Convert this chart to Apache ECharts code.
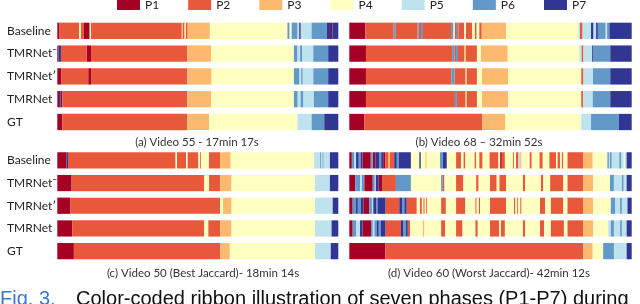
<!DOCTYPE html>
<html><head><meta charset="utf-8">
<script src="https://cdn.jsdelivr.net/npm/echarts@6/dist/echarts.min.js"></script>
<style>html,body{margin:0;padding:0;background:#fff;overflow:hidden}#c{width:640px;height:304px}</style>
</head><body><div id="c"></div>
<script>
// ---- data ----
const phases = ['P1','P2','P3','P4','P5','P6','P7'];
const phaseColors = ['#a50026','#e8583a','#fdba6e','#ffffc0','#bee3ef','#6399c8','#313695'];
const rowLabels = ['Baseline','TMRNet\u00AF','TMRNet\u2032','TMRNet','GT'];
const panelTitles = ['(a) Video 55 - 17min 17s','(b) Video 68 \u2013 32min 52s','(c) Video 50 (Best Jaccard)- 18min 14s','(d) Video 60 (Worst Jaccard)- 42min 12s'];
// each segment: [end position in % of the video, phase number]
const a_baseline = [[0.8,1],[7.8,2],[8.3,4],[9.5,2],[11.3,1],[11.6,2],[12.0,4],[44.3,2],[44.7,3],[45.3,2],[45.7,4],[46.4,2],[54.3,3],[81.9,4],[82.6,6],[83.4,4],[85.4,6],[86.1,5],[86.6,7],[90.5,5],[95.9,6],[97.4,7],[97.9,1],[100,7]];
const a_tmrMinus = [[0.4,1],[1.3,7],[10.4,2],[12.0,1],[46.3,2],[54.7,3],[84.2,4],[85.4,6],[86.4,5],[87.1,6],[91.1,5],[96.4,6],[100,7]];
const a_tmrPrime = [[1.5,1],[11.0,2],[12.0,1],[46.3,2],[54.9,3],[84.2,4],[86.1,6],[86.8,5],[87.3,6],[91.1,5],[96.4,6],[100,7]];
const a_tmr = [[0.6,1],[1.2,7],[1.8,1],[46.3,2],[54.7,3],[84.2,4],[85.5,6],[86.6,5],[87.5,6],[91.3,5],[96.4,6],[100,7]];
const a_gt = [[1.8,1],[46.3,2],[54.0,3],[85.5,4],[90.5,5],[95.0,6],[100,7]];

const b_baseline = [[5.7,1],[15.7,2],[16.3,6],[24.2,2],[24.6,6],[25.4,2],[26.1,6],[36.0,2],[36.8,6],[37.3,4],[38.1,2],[38.6,6],[40.7,2],[41.3,4],[43.5,2],[44.4,4],[45.1,2],[46.0,4],[46.9,2],[55.5,3],[81.1,4],[81.7,5],[82.6,2],[85.6,5],[86.4,7],[87.4,5],[88.0,7],[90.7,6],[91.3,5],[92.1,6],[100,7]];
const b_tmrMinus = [[5.9,1],[36.4,2],[37.2,6],[37.8,2],[38.5,6],[40.7,2],[41.3,3],[45.2,2],[46.6,4],[56.1,3],[81.5,4],[82.2,5],[82.9,2],[86.0,5],[86.4,7],[92.4,6],[100,7]];
const b_tmrPrime = [[5.9,1],[36.2,2],[37.3,6],[41.1,2],[41.6,3],[45.2,2],[47.0,4],[56.2,3],[82.1,4],[82.9,2],[86.3,5],[92.4,6],[100,7]];
const b_tmr = [[5.9,1],[37.4,2],[38.1,6],[41.1,2],[41.6,3],[45.2,2],[47.0,4],[56.2,3],[82.1,4],[82.8,2],[86.2,5],[92.4,6],[100,7]];
const b_gt = [[5.3,1],[47.0,2],[55.3,3],[82.1,4],[85.6,5],[95.4,6],[100,7]];

const c_baseline = [[3.3,1],[3.8,7],[42.1,2],[42.6,4],[45.8,2],[46.3,4],[50.2,2],[50.7,4],[51.1,2],[53.9,4],[57.9,2],[61.7,3],[91.3,4],[93.5,5],[93.8,6],[94.4,5],[94.7,6],[97.0,5],[100,7]];
const c_tmrMinus = [[5.1,1],[52.3,2],[54.0,4],[58.0,2],[62.0,3],[91.7,4],[97.0,5],[100,7]];
const c_tmrPrime = [[4.7,1],[57.9,2],[58.9,4],[62.0,3],[91.7,4],[98.0,5],[100,7]];
const c_tmr = [[5.3,1],[52.3,2],[53.7,4],[58.0,2],[62.0,3],[91.7,4],[97.6,5],[100,7]];
const c_gt = [[5.9,1],[58.0,2],[61.4,3],[91.7,4],[97.3,5],[100,7]];

const d_baseline = [[0.9,1],[1.7,6],[2.4,5],[3.3,7],[4.0,6],[4.7,7],[7.6,1],[8.3,6],[9.2,1],[10.6,7],[11.3,6],[12.0,7],[12.8,1],[13.9,2],[14.4,3],[15.9,2],[16.8,7],[17.5,6],[21.8,7],[24.8,4],[25.3,7],[26.9,4],[27.4,3],[32.1,4],[33.1,6],[34.5,7],[37.8,4],[39.6,2],[40.4,4],[41.1,2],[44.3,4],[44.9,2],[46.0,4],[47.2,2],[49.6,4],[52.8,2],[53.4,4],[54.0,1],[55.1,2],[57.9,4],[58.3,2],[59.0,4],[59.9,2],[60.5,5],[61.0,3],[63.8,4],[64.6,2],[67.3,4],[68.5,2],[70.8,4],[73.2,2],[73.7,4],[74.6,2],[75.2,4],[75.8,2],[77.2,4],[82.9,2],[86.2,3],[91.4,4],[91.9,6],[92.3,5],[92.9,6],[95.6,5],[96.2,6],[97.1,5],[97.6,4],[98.2,5],[100,7]];
const d_tmrMinus = [[2.1,1],[3.8,6],[4.5,5],[5.3,6],[8.3,1],[9.0,6],[9.4,5],[10.4,7],[11.8,1],[16.5,2],[21.8,6],[32.5,4],[33.1,6],[33.7,2],[37.8,4],[40.4,2],[44.9,4],[45.8,2],[49.8,4],[52.2,2],[53.1,4],[55.5,2],[61.4,4],[62.3,2],[67.8,4],[68.7,2],[71.1,4],[75.8,2],[77.2,4],[82.9,2],[86.4,3],[92.3,4],[93.7,6],[96.5,5],[97.1,6],[98.2,5],[100,7]];
const d_tmrPrime = [[1.2,1],[2.4,6],[3.0,7],[4.1,6],[5.0,7],[7.1,1],[8.0,6],[8.5,5],[9.5,7],[10.0,6],[12.8,7],[17.7,2],[18.7,7],[19.5,6],[20.3,7],[23.9,2],[25.0,4],[25.7,2],[26.2,4],[26.7,2],[27.2,4],[27.6,2],[32.5,4],[34.2,2],[37.8,4],[41.1,2],[44.6,4],[45.1,2],[45.8,4],[46.3,2],[49.8,4],[55.5,2],[58.3,4],[58.8,2],[59.3,4],[59.7,2],[60.5,4],[61.0,2],[67.5,4],[69.3,2],[71.3,4],[75.8,2],[77.2,4],[82.9,2],[86.4,3],[92.6,4],[94.1,6],[95.9,5],[96.5,6],[98.5,5],[100,7]];
const d_tmr = [[1.2,1],[2.4,6],[3.8,5],[4.7,7],[7.7,1],[8.3,6],[8.9,5],[9.7,6],[10.4,7],[11.2,6],[12.8,7],[18.3,2],[19.1,7],[20.1,6],[20.7,7],[21.5,2],[26.0,4],[26.6,3],[32.5,4],[34.0,2],[37.8,4],[40.1,2],[44.6,4],[45.5,2],[49.8,4],[53.1,2],[53.6,4],[55.1,2],[61.4,4],[62.3,2],[67.5,4],[69.0,2],[71.3,4],[76.0,2],[77.2,4],[82.9,2],[86.4,3],[91.7,4],[92.6,5],[93.7,6],[95.9,5],[96.5,6],[98.2,5],[100,7]];
const d_gt = [[12.8,1],[82.9,2],[86.2,3],[89.9,4],[93.7,6],[98.2,5],[100,7]];

const panelRows = [
  [a_baseline, a_tmrMinus, a_tmrPrime, a_tmr, a_gt],
  [b_baseline, b_tmrMinus, b_tmrPrime, b_tmr, b_gt],
  [c_baseline, c_tmrMinus, c_tmrPrime, c_tmr, c_gt],
  [d_baseline, d_tmrMinus, d_tmrPrime, d_tmr, d_gt]
];

// ---- layout ----
const grids = [
  {left: 57.3, top: 19.4, width: 281, height: 114},
  {left: 349.3, top: 19.4, width: 282.4, height: 114},
  {left: 57.3, top: 149, width: 281, height: 113.5},
  {left: 349.3, top: 149, width: 282.4, height: 113.5}
];
const captionPos = [[197, 142], [479, 142], [203, 273], [489, 273]];
const FONT = 'Lato';

const chart = echarts.init(document.getElementById('c'), null, {renderer: 'canvas'});

const xAxes = grids.map((g, i) => ({gridIndex: i, type: 'value', min: 0, max: 100, show: false}));
const yAxes = grids.map((g, i) => ({
  gridIndex: i, type: 'category', data: rowLabels, inverse: true,
  axisLine: {show: false}, axisTick: {show: false}, splitLine: {show: false},
  axisLabel: {show: i === 0 || i === 2, align: 'left', margin: 50.3, color: '#222', fontFamily: FONT, fontSize: 12}
}));

function renderSeg(params, api) {
  const s = api.coord([api.value(0), api.value(2)]);
  const e = api.coord([api.value(1), api.value(2)]);
  const h = api.size([0, 1])[1] * 0.715;
  return {
    type: 'rect',
    shape: {x: s[0], y: s[1] - h / 2, width: Math.max(e[0] - s[0], 0.5), height: h},
    style: {fill: api.visual('color')}
  };
}

const series = [];
panelRows.forEach((rows, pi) => {
  phases.forEach((ph, k) => {
    const data = [];
    rows.forEach((segs, ri) => {
      let start = 0;
      segs.forEach(([end, p]) => {
        if (p === k + 1) data.push([start, end, ri]);
        start = end;
      });
    });
    series.push({
      type: 'custom', name: ph, xAxisIndex: pi, yAxisIndex: pi,
      renderItem: renderSeg, data: data, encode: {x: [0, 1], y: 2},
      itemStyle: {color: phaseColors[k]}, animation: false, silent: true
    });
  });
});

const graphics = panelTitles.map((t, i) => ({
  type: 'text', x: captionPos[i][0], y: captionPos[i][1],
  style: {text: t, fill: '#333', font: '11.5px ' + FONT, textAlign: 'center', textVerticalAlign: 'middle'}
}));
graphics.push({type: 'text', x: 0, y: 299, style: {text: 'Fig. 3.', fill: '#3a78c8', font: '20px "Liberation Sans"', textAlign: 'left', textVerticalAlign: 'middle'}});
graphics.push({type: 'text', x: 76, y: 299, style: {text: 'Color-coded ribbon illustration of seven phases (P1-P7) during', fill: '#111', font: '20px "Liberation Sans"', textAlign: 'left', textVerticalAlign: 'middle'}});

chart.setOption({
  animation: false,
  color: phaseColors,
  legend: {
    data: phases, left: 117, top: -1, padding: 0, icon: 'rect', itemWidth: 23, itemHeight: 10, itemGap: 29,
    textStyle: {color: '#222', fontFamily: FONT, fontSize: 12}, selectedMode: false
  },
  grid: grids,
  xAxis: xAxes,
  yAxis: yAxes,
  series: series,
  graphic: graphics
});
</script></body></html>
